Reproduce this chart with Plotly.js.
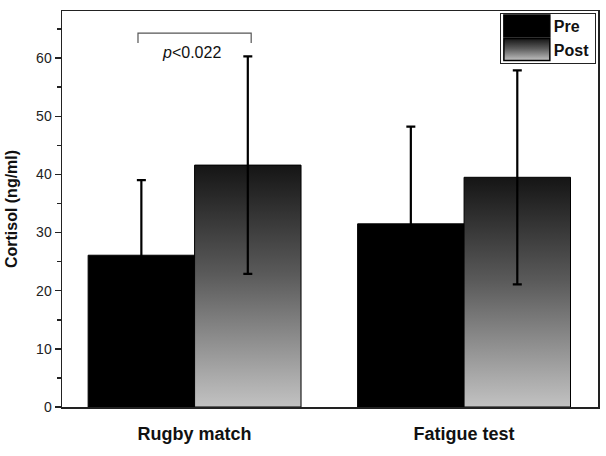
<!DOCTYPE html>
<html>
<head>
<meta charset="utf-8">
<script src="https://cdn.plot.ly/plotly-3.0.1.min.js"></script>
<style>html,body{margin:0;padding:0;background:#fff;}#chart{width:606px;height:456px;}</style>
</head>
<body>
<div id="chart"></div>
<script>
const categories = ["Rugby match", "Fatigue test"];
const preValues = [26.1, 31.5];
const preErrors = [12.9, 16.7];
const postValues = [41.6, 39.5];
const postErrors = [18.7, 18.4];
const seriesNames = ["Pre", "Post"];
const yTicks = [0, 10, 20, 30, 40, 50, 60];
const pText = "<i>p</i>&lt;0.022";

const FONT = "Liberation Sans, Arial, sans-serif";

const traces = [
  {
    type: "bar", name: seriesNames[0], x: categories, y: preValues,
    marker: {color: "#000000", line: {color: "#000000", width: 1}},
    error_y: {type: "data", array: preErrors, visible: true, color: "#000000", thickness: 2.2, width: 4.5}
  },
  {
    type: "bar", name: seriesNames[1], x: categories, y: postValues,
    marker: {color: "#777777", line: {color: "#000000", width: 1}},
    error_y: {type: "data", array: postErrors, visible: true, color: "#000000", thickness: 2.2, width: 4.5}
  }
];

const layout = {
  width: 606, height: 456,
  margin: {l: 62, r: 8, t: 11, b: 49},
  paper_bgcolor: "#ffffff", plot_bgcolor: "#ffffff",
  barmode: "group", bargap: 0.21, bargroupgap: 0,
  font: {family: FONT, color: "#222222"},
  showlegend: true,
  legend: {
    x: 0.996, xanchor: "right", y: 0.995, yanchor: "top",
    bgcolor: "#ffffff", bordercolor: "#222222", borderwidth: 1,
    font: {family: FONT, size: 16, color: "#111111", weight: "bold"},
    itemwidth: 43, traceorder: "normal"
  },
  xaxis: {
    type: "category", range: [-0.492, 1.497],
    showline: true, linecolor: "#222222", linewidth: 1.5, mirror: true,
    ticks: "", ticklabelstandoff: 10,
    tickfont: {family: FONT, size: 18, color: "#111111", weight: "bold"},
    showgrid: false, zeroline: false, fixedrange: true
  },
  yaxis: {
    range: [0, 68.1],
    tickvals: yTicks,
    ticks: "outside", ticklen: 6, tickwidth: 1.5, tickcolor: "#222222",
    minor: {dtick: 5, ticks: "outside", ticklen: 4, tickwidth: 1.5, tickcolor: "#222222", showgrid: false},
    showline: true, linecolor: "#222222", linewidth: 1.5, mirror: true,
    tickfont: {family: FONT, size: 14, color: "#222222"},
    title: {text: "Cortisol (ng/ml)", font: {family: FONT, size: 16, color: "#111111", weight: "bold"}, standoff: 14},
    showgrid: false, zeroline: false, fixedrange: true
  },
  shapes: [
    {type: "path", xref: "x", yref: "y", path: "M -0.21,62.6 L -0.21,64.3 L 0.21,64.3 L 0.21,62.6",
     line: {color: "#555555", width: 1.2}}
  ],
  annotations: [
    {xref: "x", yref: "y", x: -0.01, y: 60.9, text: pText, showarrow: false,
     font: {family: FONT, size: 16, color: "#111111"}}
  ]
};

Plotly.newPlot("chart", traces, layout, {staticPlot: true, displayModeBar: false}).then(function (gd) {
  const svg = gd.querySelector(".main-svg");
  const ns = "http://www.w3.org/2000/svg";
  let defs = svg.querySelector("defs");
  if (!defs) { defs = document.createElementNS(ns, "defs"); svg.insertBefore(defs, svg.firstChild); }
  const grad = document.createElementNS(ns, "linearGradient");
  grad.setAttribute("id", "postGrad");
  grad.setAttribute("x1", "0"); grad.setAttribute("y1", "0");
  grad.setAttribute("x2", "0"); grad.setAttribute("y2", "1");
  [["0", "#151515"], ["0.45", "#5a5a5a"], ["1", "#c2c2c2"]].forEach(function (s) {
    const st = document.createElementNS(ns, "stop");
    st.setAttribute("offset", s[0]); st.setAttribute("stop-color", s[1]);
    grad.appendChild(st);
  });
  defs.appendChild(grad);
  const barTraces = gd.querySelectorAll(".barlayer .trace");
  if (barTraces[1]) {
    barTraces[1].querySelectorAll(".point path").forEach(function (p) { p.style.fill = "url(#postGrad)"; });
  }
  // compact legend layout
  const legend = gd.querySelector(".legend");
  const bg = legend ? legend.querySelector("rect.bg") : null;
  const lTop = legend ? legend.getBoundingClientRect().top : 0;
  const wantCenters = [26, 49.5];
  const legendItems = gd.querySelectorAll(".legend .traces");
  legendItems.forEach(function (item, i) {
    const p = item.querySelector(".legendpoints path");
    if (!p) return;
    p.setAttribute("transform", "translate(26,0) scale(3.83,1.83)");
    p.style.vectorEffect = "non-scaling-stroke";
    p.style.strokeWidth = "1.5px";
    p.style.stroke = "#000";
    if (i === 1) p.style.fill = "url(#postGrad)";
    const r = p.getBoundingClientRect();
    const cur = (r.top + r.bottom) / 2;
    const delta = wantCenters[i] - cur;
    const tr = item.getAttribute("transform") || "";
    const m = tr.match(/translate\(\s*([-\d.eE]+)[ ,]+([-\d.eE]+)\s*\)/);
    if (m) {
      item.setAttribute("transform", "translate(" + m[1] + "," + (parseFloat(m[2]) + delta) + ")");
    }
  });
  if (bg) {
    const bgTop = bg.getBoundingClientRect().top;
    bg.setAttribute("height", String(63 - bgTop));
  }
});
</script>
</body>
</html>
